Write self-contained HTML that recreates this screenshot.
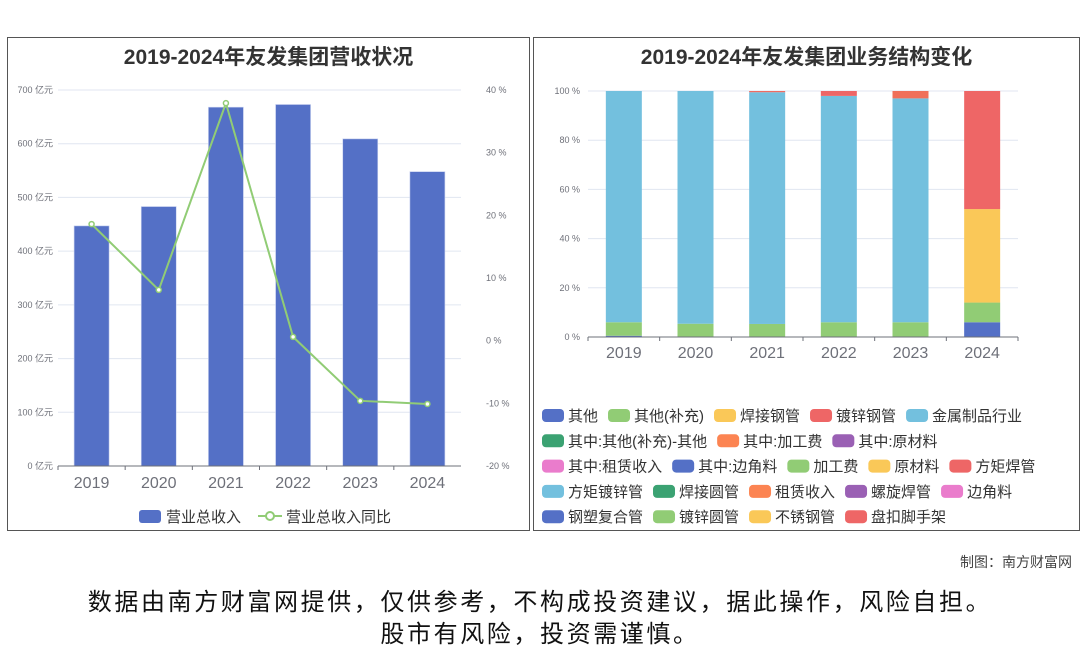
<!DOCTYPE html>
<html><head><meta charset="utf-8"><style>
body{margin:0;width:1080px;height:646px;background:#fff;font-family:"Liberation Sans","Noto Sans CJK SC",sans-serif;overflow:hidden;position:relative}
.panel{position:absolute;border:1px solid #555;box-sizing:border-box;background:#fff}
.title{position:absolute;font-weight:bold;font-size:21px;color:#333;text-align:center;width:100%;top:3px}
.foot{position:absolute;width:100%;text-align:center;font-size:24px;color:#111;letter-spacing:2.6px}
</style></head><body>
<div class="panel" style="left:7px;top:37px;width:523px;height:494px">
<div class="title">2019-2024年友发集团营收状况</div></div>
<div class="panel" style="left:533px;top:37px;width:547px;height:494px">
<div class="title">2019-2024年友发集团业务结构变化</div></div>
<svg id="svg" width="1080" height="646" style="position:absolute;left:0;top:0"></svg>
<div style="position:absolute;right:8px;top:552px;font-size:14px;color:#444">制图：南方财富网</div>
<div class="foot" style="top:582px">数据由南方财富网提供，仅供参考，不构成投资建议，据此操作，风险自担。</div>
<div class="foot" style="top:614px">股市有风险，投资需谨慎。</div>
<script>
const years=["2019","2020","2021","2022","2023","2024"];
const revenue=[447,483,668,673,609,548];
const growth=[18.6,8.1,37.9,0.6,-9.6,-10.1];
const leftTicks=[0,100,200,300,400,500,600,700];
const rightTicks=[-20,-10,0,10,20,30,40];
const structNames=["其他","其他(补充)","焊接钢管","镀锌钢管","金属制品行业","其中:其他(补充)-其他","其中:加工费","其中:原材料","其中:租赁收入","其中:边角料","加工费","原材料","方矩焊管","方矩镀锌管","焊接圆管","租赁收入","螺旋焊管","边角料","钢塑复合管","镀锌圆管","不锈钢管","盘扣脚手架"];
const structColors=["#5470c6","#91cc75","#fac858","#ee6666","#73c0de","#3ba272","#fc8452","#9a60b4","#ea7ccc","#5470c6","#91cc75","#fac858","#ee6666","#73c0de","#3ba272","#fc8452","#9a60b4","#ea7ccc","#5470c6","#91cc75","#fac858","#ee6666"];
const sOther=[0.5,0,0,0,0,6];
const sOtherSup=[5.5,5.4,5.3,6,6,8];
const sWeld=[0,0,0,0,0,38];
const sMetal=[94,94.6,94.2,92,91,0];
const sGalv=[0,0,0.3,2,0,48];
const sSquare=[0,0,0.2,0,3,0];
const NS="http://www.w3.org/2000/svg",svg=document.getElementById('svg');
function mk(t,a,p){const e=document.createElementNS(NS,t);for(const k in a)e.setAttribute(k,a[k]);(p||svg).appendChild(e);return e;}
function txt(x,y,s,sz,col,anc,name){const e=mk('text',{x:x,y:y,'font-size':sz,fill:col,'text-anchor':anc||'middle','font-family':'Liberation Sans, Noto Sans CJK SC, sans-serif'});e.textContent=s;return e;}
// left chart
const L={x0:58,x1:461,y0:466,y1:90};
const yL=v=>L.y0-(v/700)*(L.y0-L.y1);
const yR=v=>L.y0-((v+20)/60)*(L.y0-L.y1);
const bw=(L.x1-L.x0)/years.length;
const xL=i=>L.x0+bw*(i+0.5);
leftTicks.forEach(t=>{if(t>0){const g=mk('line',{x1:L.x0,x2:L.x1,y1:yL(t),y2:yL(t),stroke:'#e0e6f1'});}
txt(53,yL(t)+3,t+" 亿元",9,'#6e7079','end','left-y-tick');});
rightTicks.forEach(t=>{txt(486,yR(t)+3,t+" %",9,'#6e7079','start','right-y-tick');});
revenue.forEach((v,i)=>{const r=mk('rect',{x:xL(i)-17.5,y:yL(v),width:35,height:L.y0-yL(v),fill:'#5470c6',stroke:'#c7d0ef','stroke-width':0.6});});
const ax=mk('line',{x1:L.x0,x2:L.x1,y1:L.y0,y2:L.y0,stroke:'#6e7079'});
years.forEach((y,i)=>{mk('line',{x1:L.x0+bw*i,x2:L.x0+bw*i,y1:L.y0,y2:L.y0+4,stroke:'#6e7079'});txt(xL(i),488,y,16,'#6e7079','middle','left-x-label');});
const ln=mk('polyline',{points:growth.map((g,i)=>xL(i)+','+yR(g)).join(' '),fill:'none',stroke:'#91cc75','stroke-width':2});

growth.forEach((g,i)=>{const c=mk('circle',{cx:xL(i),cy:yR(g),r:2.5,fill:'#fff',stroke:'#91cc75','stroke-width':1.5});});
let lg=mk('rect',{x:139,y:510,width:22,height:13,rx:3,fill:'#5470c6'});
txt(166,522,'营业总收入',15,'#333','start','legend-revenue');
mk('line',{x1:258,x2:282,y1:516,y2:516,stroke:'#91cc75','stroke-width':2});mk('circle',{cx:270,cy:516,r:4,fill:'#fff',stroke:'#91cc75','stroke-width':2});
txt(286,522,'营业总收入同比',15,'#333','start','legend-growth');
// right chart
const R={x0:588,x1:1018,y0:337,y1:91};
const yP=v=>R.y0-(v/100)*(R.y0-R.y1);
const bw2=(R.x1-R.x0)/years.length;const xP=i=>R.x0+bw2*(i+0.5);
[0,20,40,60,80,100].forEach(t=>{if(t>0){const g=mk('line',{x1:R.x0,x2:R.x1,y1:yP(t),y2:yP(t),stroke:'#e0e6f1'});}
txt(580,yP(t)+3,t+" %",9,'#6e7079','end','pct-y-tick');});
const series=[sOther,sOtherSup,sWeld,sMetal,sGalv,sSquare];
const sCols=["#5470c6","#91cc75","#fac858","#73c0de","#ee6666","#f0705a"];
years.forEach((y,i)=>{let acc=0;series.forEach((s,k)=>{const v=s[i];if(v<=0)return;const r=mk('rect',{x:xP(i)-18,y:yP(acc+v),width:36,height:yP(acc)-yP(acc+v),fill:sCols[k]});acc+=v;});});
const ax2=mk('line',{x1:R.x0,x2:R.x1,y1:R.y0,y2:R.y0,stroke:'#6e7079'});
years.forEach((y,i)=>{mk('line',{x1:R.x0+bw2*i,x2:R.x0+bw2*i,y1:R.y0,y2:R.y0+4,stroke:'#6e7079'});txt(xP(i),358,y,16,'#6e7079','middle','right-x-label');});
mk('line',{x1:R.x1,x2:R.x1,y1:R.y0,y2:R.y0+4,stroke:'#6e7079'});
// legend
const rows=[[0,1,2,3,4],[5,6,7],[8,9,10,11,12],[13,14,15,16,17],[18,19,20,21]];
rows.forEach((row,ri)=>{let x=542;const y=415+ri*25.3;row.forEach(k=>{const s=mk('rect',{x:x,y:y-6,width:22,height:13,rx:4,fill:structColors[k]});
const t=txt(x+26,y+6,structNames[k],15,'#333','start','legend-entry');x+=26+t.getComputedTextLength()+10;});});
</script>
</body></html>
